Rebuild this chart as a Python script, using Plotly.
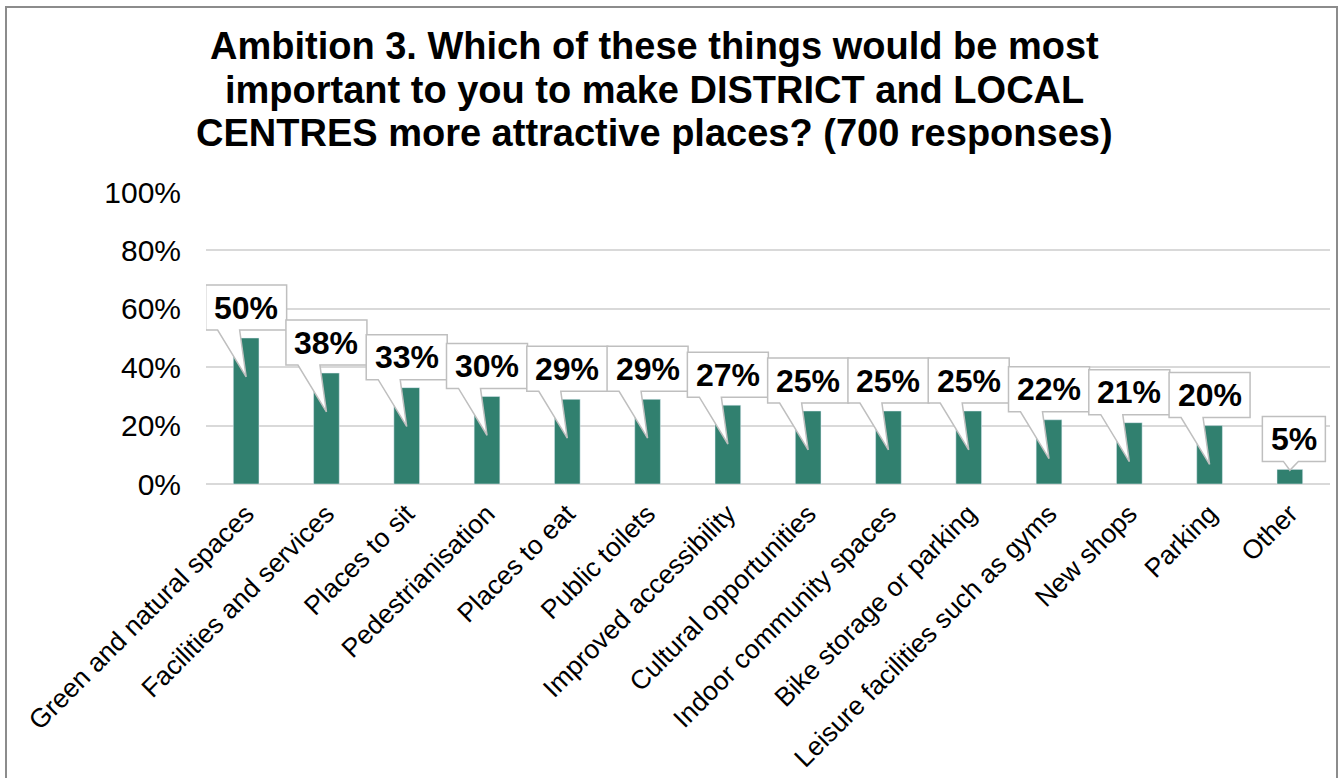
import plotly.graph_objects as go

categories = [
    "Green and natural spaces", "Facilities and services", "Places to sit",
    "Pedestrianisation", "Places to eat", "Public toilets",
    "Improved accessibility", "Cultural opportunities",
    "Indoor community spaces", "Bike storage or parking",
    "Leisure facilities such as gyms", "New shops", "Parking", "Other",
]
values = [50, 38, 33, 30, 29, 29, 27, 25, 25, 25, 22, 21, 20, 5]
y_ticks = [0, 20, 40, 60, 80, 100]
title_lines = [
    "Ambition 3. Which of these things would be most",
    "important to you to make DISTRICT and LOCAL",
    "CENTRES more attractive places? (700 responses)",
]

FONT = "Liberation Sans, Arial, sans-serif"
BAR_COLOR = "#31806f"
W, H = 1344, 778
L, R, T, B = 206, 14, 192, 294
plot_w = W - L - R
plot_h = H - T - B
px_y = plot_h / 100.0            # pixels per percentage point
px_x = plot_w / len(categories)  # pixels per category slot

xs = list(range(len(categories)))

fig = go.Figure(go.Bar(
    x=xs, y=values, marker_color=BAR_COLOR, width=0.32,
    hoverinfo="skip",
))

shapes = []
annotations = []
for i, v in zip(xs, values):
    label = f"{v}%"
    wide = len(label) > 2
    box_w = (81 if wide else 63) / px_x
    left = i - box_w / 2 + (0 if wide else 0.05)
    right = left + box_w
    bottom = v + 8 / px_y
    top = bottom + 45 / px_y
    tip_y = v - 13.3 if v - 13.3 > 0 else v * 0.94
    if wide:
        t0, t1 = left + 12 / px_x, left + 34 / px_x
    else:
        t0, t1 = left + 21 / px_x, left + 36 / px_x
    path = (f"M{left},{top} L{right},{top} L{right},{bottom} "
            f"L{t1},{bottom} L{i},{tip_y} L{t0},{bottom} L{left},{bottom} Z")
    shapes.append(dict(type="path", path=path, xref="x", yref="y",
                       fillcolor="white", line=dict(color="#bfbfbf", width=1.5),
                       layer="above"))
    annotations.append(dict(x=(left + right) / 2, y=(top + bottom) / 2,
                            xref="x", yref="y", text=f"<b>{label}</b>",
                            showarrow=False, xanchor="center", yanchor="middle",
                            font=dict(family=FONT, size=32, color="black")))

# outer chart border
shapes.append(dict(type="rect", xref="paper", yref="paper",
                   x0=(6 - L) / plot_w, x1=(1337 - L) / plot_w,
                   y0=(H - B - 800) / plot_h, y1=(H - B - 7) / plot_h,
                   line=dict(color="#8c8c8c", width=2), fillcolor="rgba(0,0,0,0)"))

# three-line bold title, one annotation per line for tight spacing
for k, line in enumerate(title_lines):
    y_px = 46 + 43.5 * k
    annotations.append(dict(
        xref="paper", yref="paper", x=(654 - L) / plot_w,
        y=(H - B - y_px) / plot_h,
        xanchor="center", yanchor="middle", showarrow=False,
        text=f"<b>{line}</b>",
        font=dict(family=FONT, size=38, color="black"),
    ))

fig.update_layout(
    width=W, height=H,
    margin=dict(l=L, r=R, t=T, b=B, autoexpand=False),
    paper_bgcolor="white", plot_bgcolor="white",
    showlegend=False, bargap=0.68,
    shapes=shapes, annotations=annotations,
    font=dict(family=FONT, color="black"),
)
fig.update_xaxes(
    tickmode="array", tickvals=xs, ticktext=categories,
    range=[-0.5, len(categories) - 0.5], tickangle=-45,
    tickfont=dict(family=FONT, size=26.5, color="black"),
    showgrid=False, zeroline=False, showline=False, ticks="",
    ticklabelstandoff=8, automargin=False,
)
fig.update_yaxes(
    range=[0, 100], tickmode="array", tickvals=y_ticks,
    ticktext=[f"{t}%" for t in y_ticks],
    tickfont=dict(family=FONT, size=30, color="black"),
    showgrid=True, gridcolor="#d9d9d9", gridwidth=1.5,
    zeroline=True, zerolinecolor="#d9d9d9", zerolinewidth=1.5,
    showline=False, ticks="", ticklabelstandoff=24, automargin=False,
)

fig.write_html("out.html", config={"displayModeBar": False})
